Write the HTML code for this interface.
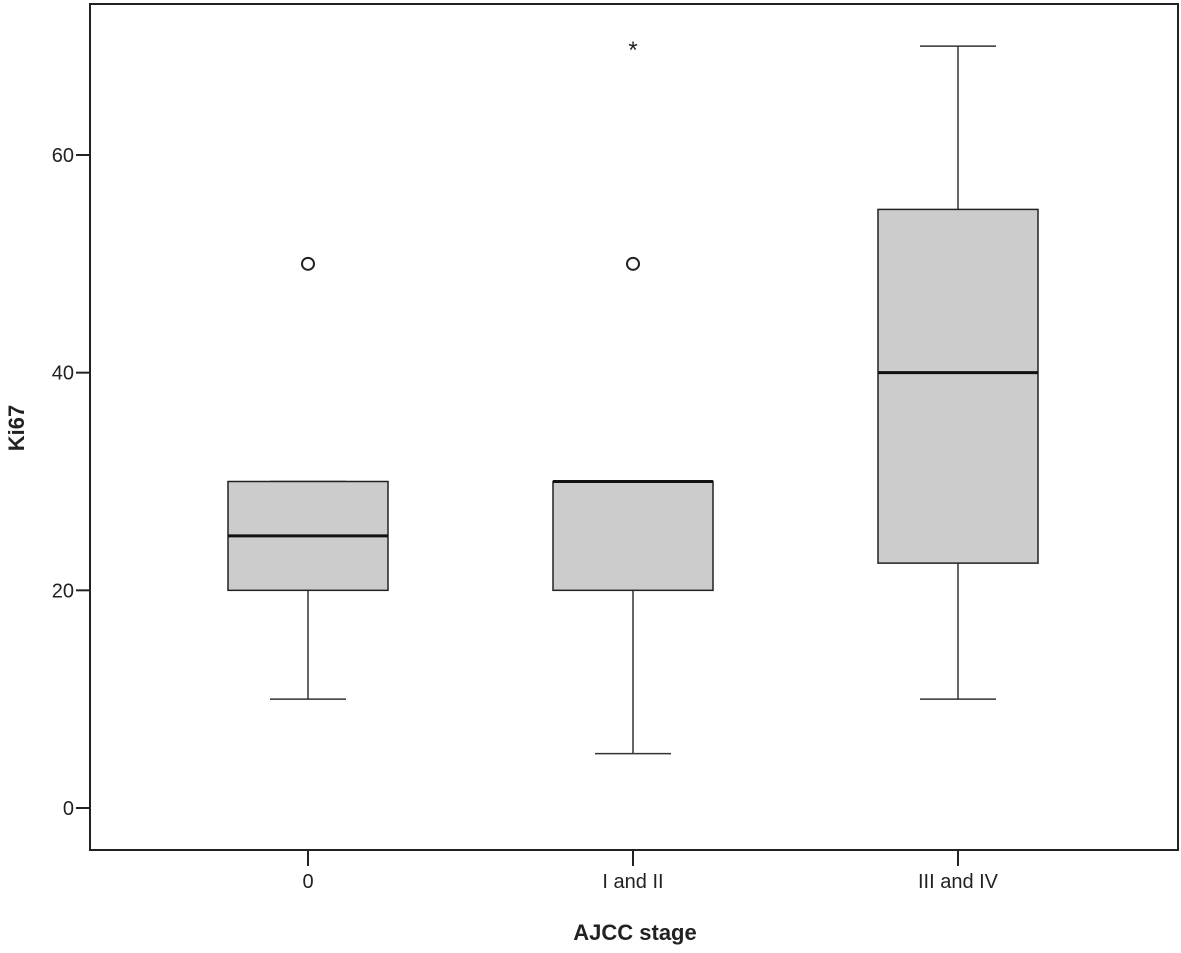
<!DOCTYPE html>
<html><head><meta charset="utf-8"><style>
html,body{margin:0;padding:0;background:#fff;}
svg text{font-family:"Liberation Sans",Arial,sans-serif;fill:#222;}
</style></head><body>
<svg id="chart" width="1181" height="948" xmlns="http://www.w3.org/2000/svg"></svg>
<script>
const categories = ["0", "I and II", "III and IV"];
const mins = [10, 5, 10];
const q1s = [20, 20, 22.5];
const medians = [25, 30, 40];
const q3s = [30, 30, 55];
const maxs = [30, 30, 70];
const circleOutliers = [[50], [50], []];
const starOutliers = [[], [70], []];
const yTicks = [0, 20, 40, 60];

const NS = "http://www.w3.org/2000/svg";
const svg = document.getElementById("chart");
const L = 90, R = 1178, T = 4, B = 850;
function y(v){ return 808 - v * (808 - 155) / 60; }
function x(i){ return 308 + i * 325; }
function mk(tag, attrs, parent){
  const e = document.createElementNS(NS, tag);
  for (const k in attrs) e.setAttribute(k, attrs[k]);
  (parent || svg).appendChild(e);
  return e;
}
const frame = mk("rect", {x:L, y:T, width:R-L, height:B-T, fill:"none", stroke:"#222", "stroke-width":2});



yTicks.forEach(v => {
  const g = mk("g", {});
  
  
  mk("line", {x1:76, x2:L, y1:y(v), y2:y(v), stroke:"#222", "stroke-width":2}, g);
  const t = mk("text", {x:74, y:y(v)+7, "text-anchor":"end", "font-size":20}, g);
  t.textContent = v;
});

categories.forEach((c, i) => {
  const cx = x(i), hw = 80, cw = 38;
  const g = mk("g", {});
  
  
  mk("line", {x1:cx, x2:cx, y1:y(mins[i]), y2:y(q1s[i]), stroke:"#333", "stroke-width":1.5}, g);
  mk("line", {x1:cx, x2:cx, y1:y(q3s[i]), y2:y(maxs[i]), stroke:"#333", "stroke-width":1.5}, g);
  mk("line", {x1:cx-cw, x2:cx+cw, y1:y(mins[i]), y2:y(mins[i]), stroke:"#333", "stroke-width":1.5}, g);
  mk("line", {x1:cx-cw, x2:cx+cw, y1:y(maxs[i]), y2:y(maxs[i]), stroke:"#333", "stroke-width":1.5}, g);
  mk("rect", {x:cx-hw, y:y(q3s[i]), width:2*hw, height:y(q1s[i])-y(q3s[i]), fill:"#cccccc", stroke:"#222", "stroke-width":1.5}, g);
  mk("line", {x1:cx-hw, x2:cx+hw, y1:y(medians[i]), y2:y(medians[i]), stroke:"#111", "stroke-width":3}, g);
  circleOutliers[i].forEach(v => {
    const o = mk("circle", {cx:cx, cy:y(v), r:6, fill:"#fff", stroke:"#222", "stroke-width":2});
    
    
  });
  starOutliers[i].forEach(v => {
    const s = mk("text", {x:cx, y:y(v)+12, "text-anchor":"middle", "font-size":24});
    
    
    s.textContent = "*";
  });
  const tk = mk("line", {x1:cx, x2:cx, y1:B, y2:B+16, stroke:"#222", "stroke-width":2});
  
  
  const tl = mk("text", {x:cx, y:888, "text-anchor":"middle", "font-size":20});
  
  
  tl.textContent = c;
});

const xt = mk("text", {x:635, y:940, "text-anchor":"middle", "font-size":22, "font-weight":"bold"});


xt.textContent = "AJCC stage";
const yt = mk("text", {x:0, y:0, "text-anchor":"middle", "font-size":22, "font-weight":"bold", transform:"translate(24,428) rotate(-90)"});


yt.textContent = "Ki67";
</script>
</body></html>
